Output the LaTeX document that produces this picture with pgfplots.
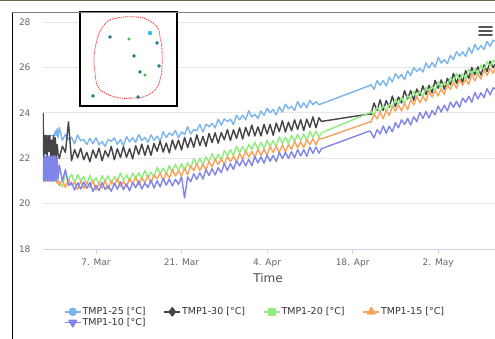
\documentclass[border=0pt]{standalone}
\usepackage{pgfplots}
\pgfplotsset{compat=1.18}
\usepackage{pgfplotstable}
\usepackage{fontspec}
\setmainfont{DejaVu Sans}

\definecolor{c25}{HTML}{7CB5EC}
\definecolor{c30}{HTML}{434348}
\definecolor{c20}{HTML}{90ED7D}
\definecolor{c15}{HTML}{F7A35C}
\definecolor{c10}{HTML}{8085E9}
\definecolor{gridc}{HTML}{E6E6E6}
\definecolor{axc}{HTML}{CCD6EB}
\definecolor{tickc}{HTML}{666666}
\definecolor{timec}{HTML}{4D4D4D}
\definecolor{legc}{HTML}{333333}
\definecolor{hambc}{HTML}{555555}
\definecolor{topc}{HTML}{6E6548}
\definecolor{redc}{HTML}{F03030}
\definecolor{tealc}{HTML}{1F7F8F}
\definecolor{greenc}{HTML}{4CAF50}
\definecolor{lbluec}{HTML}{33B5E5}

\pgfplotstableread{
d b k g o p
-2.66 23.00 24.00 21.50 21.00 22.00
-2.55 23.00 22.00 21.00 21.00 21.00
-2.45 23.00 23.00 21.90 21.00 22.10
-2.30 23.00 22.20 21.00 21.00 21.00
-2.15 23.00 23.00 21.80 21.20 22.10
-2.00 23.00 22.00 21.00 21.00 21.00
-1.85 23.00 23.00 21.50 21.00 22.10
-1.70 23.00 22.30 21.00 21.00 21.00
-1.55 23.00 23.00 22.00 21.10 22.10
-1.40 23.00 22.00 21.00 21.00 21.00
-1.25 23.00 22.80 21.70 21.00 22.10
-1.10 23.00 22.00 21.00 21.00 21.00
-0.95 23.00 23.00 21.60 21.00 22.10
-0.80 23.00 22.10 21.00 21.00 21.00
-0.65 23.20 22.90 21.90 21.00 22.10
-0.50 23.00 22.00 21.00 21.00 21.00
-0.35 23.30 22.60 21.30 20.90 22.00
-0.20 22.90 22.20 21.10 21.00 21.10
0.0 23.35 21.99 20.91 20.79 21.70
0.5 22.79 22.53 20.74 21.05 21.00
1.0 23.05 22.26 21.37 20.70 21.50
1.5 22.81 23.60 21.03 21.08 20.80
2.0 22.92 21.89 21.29 20.79 20.92
2.5 22.64 22.38 20.92 20.93 20.60
3.0 23.02 22.02 21.28 20.62 20.92
3.5 22.77 22.44 21.01 21.00 20.64
4.0 22.82 21.93 21.19 20.67 20.95
4.5 22.60 22.26 20.87 20.94 20.67
5.0 22.88 21.84 21.25 20.70 20.93
5.5 22.64 22.36 20.92 21.01 20.54
6.0 22.90 22.02 21.14 20.60 20.80
6.5 22.59 22.44 20.86 20.90 20.57
7.0 22.73 21.89 21.23 20.68 20.93
7.5 22.52 22.33 20.99 21.01 20.62
8.0 22.83 22.06 21.22 20.64 20.79
8.5 22.74 22.52 20.88 21.00 20.54
9.0 22.90 21.93 21.19 20.81 20.90
9.5 22.61 22.42 20.96 21.10 20.63
10.0 22.82 22.03 21.35 20.75 20.96
10.5 22.55 22.51 21.03 20.99 20.61
11.0 22.95 22.04 21.26 20.74 20.87
11.5 22.72 22.42 20.98 21.10 20.56
12.0 22.91 21.97 21.35 20.87 20.93
12.5 22.70 22.55 21.11 21.17 20.70
13.0 23.04 22.16 21.36 20.82 21.00
13.5 22.78 22.62 21.09 21.13 20.64
14.0 22.92 22.12 21.46 20.92 20.91
14.5 22.70 22.57 21.16 21.24 20.71
15.0 23.03 22.13 21.39 20.91 21.04
15.5 22.79 22.65 21.16 21.26 20.68
16.0 22.97 22.31 21.59 21.09 21.01
16.5 22.75 22.75 21.30 21.34 20.74
17.0 23.17 22.27 21.57 21.01 21.11
17.5 22.91 22.67 21.30 21.36 20.81
18.0 23.11 22.23 21.67 21.13 21.08
18.5 23.01 22.80 21.39 21.49 20.78
19.0 23.22 22.40 21.74 21.22 21.07
19.5 22.90 22.80 21.43 21.45 20.85
20.0 23.16 22.36 21.76 21.22 21.18
20.5 23.04 22.91 21.46 21.58 20.25
21.0 23.39 22.47 21.80 21.27 21.18
21.5 23.07 22.90 21.56 21.67 20.96
22.0 23.26 22.48 21.98 21.44 21.32
22.5 23.22 23.03 21.70 21.76 21.06
23.0 23.49 22.55 22.00 21.45 21.36
23.5 23.15 22.96 21.70 21.73 21.08
24.0 23.50 22.52 22.06 21.48 21.50
24.5 23.38 23.09 21.84 21.86 21.24
25.0 23.53 22.69 22.20 21.61 21.54
25.5 23.33 23.12 21.88 21.97 21.26
26.0 23.72 22.66 22.18 21.72 21.58
26.5 23.46 23.13 21.92 21.98 21.36
27.0 23.73 22.81 22.34 21.71 21.76
27.5 23.61 23.26 22.10 22.09 21.46
28.0 23.72 22.78 22.38 21.84 21.76
28.5 23.48 23.25 22.12 22.10 21.50
29.0 23.89 22.87 22.52 21.83 21.88
29.5 23.69 23.34 22.24 22.21 21.66
30.0 23.90 22.84 22.52 21.96 21.94
30.5 23.69 23.36 22.25 22.31 21.66
31.0 24.09 22.98 22.61 22.05 21.95
31.5 23.82 23.46 22.38 22.30 21.67
32.0 23.93 22.98 22.71 22.03 22.07
32.5 23.75 23.38 22.39 22.39 21.79
33.0 24.08 22.98 22.70 22.12 22.06
33.5 23.89 23.49 22.43 22.39 21.78
34.0 24.20 23.07 22.80 22.12 22.14
34.5 24.00 23.49 22.52 22.52 21.86
35.0 24.15 23.01 22.77 22.25 22.13
35.5 23.90 23.55 22.52 22.52 21.85
36.0 24.26 23.17 22.94 22.26 22.26
36.5 24.03 23.65 22.65 22.59 21.98
37.0 24.38 23.15 22.92 22.28 22.26
37.5 24.18 23.59 22.64 22.60 21.99
38.0 24.29 23.21 23.01 22.39 22.29
38.5 24.10 23.69 22.74 22.74 22.01
39.0 24.50 23.27 23.04 22.46 22.38
39.5 24.23 23.70 22.77 22.73 22.10
40.0 24.44 23.22 23.06 22.46 22.38
40.5 24.22 23.72 22.78 22.82 22.08
41.0 24.55 23.36 23.19 22.59 22.49
41.5 24.36 23.82 22.92 22.86 22.21
42.0 24.49 23.34 23.19 22.59 22.49
42.5 24.35 23.78 22.93 22.89 22.22
42.9 24.40 23.62 23.12 22.85 22.42
50.8 25.20 23.95 24.00 23.60 23.20
51.0 25.24 23.92 24.07 23.58 23.14
51.5 25.03 24.43 23.87 23.95 22.89
52.0 25.42 24.10 24.26 23.73 23.26
52.5 25.21 24.57 24.02 24.04 23.07
53.0 25.42 24.10 24.33 23.74 23.42
53.5 25.18 24.54 24.05 24.11 23.10
54.0 25.57 24.25 24.38 23.88 23.41
54.5 25.36 24.74 24.22 24.30 23.16
55.0 25.73 24.27 24.61 24.07 23.57
55.5 25.52 24.70 24.37 24.34 23.34
56.0 25.69 24.43 24.68 24.08 23.69
56.5 25.46 24.98 24.40 24.41 23.48
57.0 25.85 24.61 24.75 24.14 23.75
57.5 25.64 24.98 24.63 24.58 23.46
58.0 25.99 24.55 24.96 24.35 23.83
58.5 25.83 25.05 24.66 24.72 23.61
59.0 25.96 24.76 24.95 24.44 24.02
59.5 25.79 25.19 24.71 24.73 23.75
60.0 26.20 24.80 25.12 24.50 24.06
60.5 25.97 25.21 24.94 24.96 23.77
61.0 26.22 24.88 25.19 24.69 24.10
61.5 26.01 25.43 24.97 24.98 23.91
62.0 26.44 25.08 25.38 24.74 24.30
62.5 26.19 25.45 25.12 25.07 24.03
63.0 26.34 25.04 25.35 24.81 24.34
63.5 26.16 25.52 25.17 25.24 24.08
64.0 26.53 25.23 25.54 25.03 24.47
64.5 26.34 25.74 25.36 25.33 24.24
65.0 26.69 25.29 25.73 25.08 24.51
65.5 26.50 25.68 25.43 25.47 24.24
66.0 26.69 25.35 25.72 25.21 24.65
66.5 26.48 25.86 25.52 25.48 24.46
67.0 26.87 25.51 25.91 25.25 24.73
67.5 26.62 26.00 25.71 25.71 24.46
68.0 27.01 25.67 25.96 25.40 24.89
68.5 26.77 26.03 25.70 25.71 24.61
69.0 26.96 25.66 26.11 25.49 24.88
69.5 26.79 26.11 25.89 25.88 24.67
70.0 27.14 25.82 26.26 25.65 25.06
70.5 26.93 26.27 26.06 25.95 24.79
71.0 27.20 25.98 26.31 25.74 25.10
71.3 27.15 26.15 26.25 25.95 25.05
}\datatable

\begin{document}
\begin{tikzpicture}
\fill[white] (0,0) rectangle (495pt,339pt);
\useasboundingbox (0,0) rectangle (495pt,339pt);
\fill[topc] (0,337.5pt) rectangle (495pt,339pt);

\begin{axis}[
  at={(43pt,90pt)}, anchor=south west, scale only axis,
  width=452pt, height=227pt,
  xmin=-2.67, xmax=71.3, ymin=18, ymax=28,
  axis x line*=bottom, axis y line*=left,
  x axis line style={draw=axc, line width=0.8pt, -},
  y axis line style={draw=none, -},
  xtick={6,20,34,48,62},
  xticklabels={7. Mar,21. Mar,4. Apr,18. Apr,2. May},
  ytick={18,20,...,28},
  ymajorgrids, grid style={draw=gridc, line width=0.8pt},
  x tick style={draw=axc, line width=0.8pt},
  y tick style={draw=none},
  tick align=outside,
  major tick length=5pt,
  ticklabel style={font=\fontsize{9}{10}\selectfont, text=tickc},
  /pgf/number format/assume math mode=true,
  yticklabel style={xshift=-4pt},
  xticklabel style={yshift=-1pt},
  xlabel={Time},
  xlabel style={at={(axis description cs:0.498,-0.128)}, anchor=center, font=\fontsize{12}{14}\selectfont, text=timec},
  legend columns=4,
  legend cell align=left,
  legend style={at={(axis description cs:0.0465,-0.2533)}, anchor=north west, draw=none, fill=none,
    inner sep=0pt, outer sep=0pt, row sep=0pt, column sep=0pt,
    nodes={inner xsep=1pt, inner ysep=1pt, text=legc, font=\fontsize{9.5}{11}\selectfont}},
  legend image code/.code={\draw[mark repeat=2,mark phase=2,#1] plot coordinates {(0pt,0pt) (8pt,0pt) (16pt,0pt)};},
  every axis plot/.append style={line width=1.4pt, line join=round},
]
\addplot[c25, forget plot] table[x=d,y=b] {\datatable};
\addplot[c30, forget plot] table[x=d,y=k] {\datatable};
\addplot[c20, forget plot] table[x=d,y=g] {\datatable};
\addplot[c15, forget plot] table[x=d,y=o] {\datatable};
\addplot[c10, forget plot] table[x=d,y=p] {\datatable};

\addlegendimage{c25, line width=1.5pt, mark=*, mark size=3.5pt}
\addlegendentry{\makebox[80pt][l]{TMP1-25 [°C]}}
\addlegendimage{c30, line width=1.5pt, mark=diamond*, mark size=4pt}
\addlegendentry{\makebox[80pt][l]{TMP1-30 [°C]}}
\addlegendimage{c20, line width=1.5pt, mark=square*, mark size=3.2pt}
\addlegendentry{\makebox[80pt][l]{TMP1-20 [°C]}}
\addlegendimage{c15, line width=1.5pt, mark=triangle*, mark size=4.2pt}
\addlegendentry{\makebox[80pt][l]{TMP1-15 [°C]}}
\addlegendimage{c10, line width=1.5pt, mark=triangle*, mark size=4.2pt, mark options={rotate=180}}
\addlegendentry{\makebox[80pt][l]{TMP1-10 [°C]}}
\end{axis}

% inset map
\begin{axis}[
  at={(80pt,233pt)}, anchor=south west, scale only axis,
  width=97pt, height=94pt,
  xmin=0, xmax=97, ymin=0, ymax=94, y dir=reverse,
  ticks=none, axis line style={line width=1.6pt, black},
  axis background/.style={fill=white},
  clip=false,
]
\addplot[draw=redc, line width=0.8pt, dash pattern=on 1.2pt off 0.9pt, smooth, tension=0.7, mark=none]
  coordinates {(43,5) (63,6) (77,15) (80,25) (82,38) (82,55) (80,68) (75,78) (63,85) (53,86) (40,86) (27,82) (18,75) (15,61) (14,45) (17,28) (22,16) (30,8) (43,5)};
\addplot[only marks, mark=*, mark size=1.5pt, draw=tealc, fill=tealc]
  coordinates {(30,25) (77,31) (54,44) (79,54) (60,60) (13,84) (58,85)};
\addplot[only marks, mark=*, mark size=1.4pt, draw=greenc, fill=greenc]
  coordinates {(49,27) (65,63)};
\addplot[only marks, mark=*, mark size=2pt, draw=lbluec, fill=lbluec]
  coordinates {(70,21)};
\end{axis}

% frame and menu icon
\draw[line width=1.8pt, black] (12.5pt,0pt) -- (12.5pt,327pt);
\draw[line width=1.5pt, color=gray] (12pt,326.5pt) -- (495pt,326.5pt);
\draw[line width=1.8pt, hambc, line cap=round] (479pt,312pt) -- (492pt,312pt);
\draw[line width=1.8pt, hambc, line cap=round] (479pt,308pt) -- (492pt,308pt);
\draw[line width=1.8pt, hambc, line cap=round] (479pt,304pt) -- (492pt,304pt);
\end{tikzpicture}
\end{document}
